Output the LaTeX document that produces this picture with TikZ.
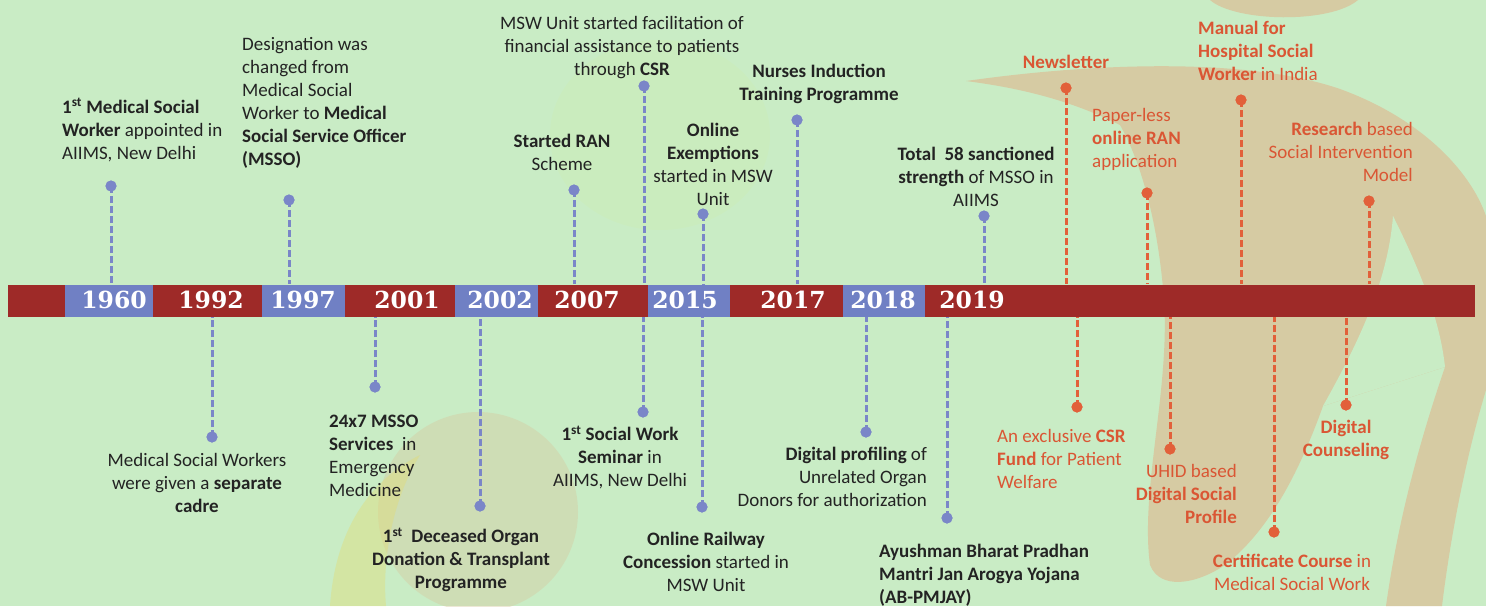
\documentclass[tikz,border=0pt]{standalone}
\usepackage{fontspec}
\setmainfont{Carlito}
\newfontfamily\yearfont{DejaVu Serif}
\definecolor{bggreen}{RGB}{201,236,197}
\definecolor{tanc}{RGB}{214,203,163}
\definecolor{barred}{RGB}{158,42,40}
\definecolor{segblue}{RGB}{112,128,196}
\definecolor{dotblue}{RGB}{122,134,200}
\definecolor{dotorange}{RGB}{226,96,58}
\definecolor{textdark}{RGB}{35,35,35}
\definecolor{textorange}{RGB}{218,86,52}
\tikzset{
  bdot/.style={circle, fill=dotblue, inner sep=0pt, minimum size=11pt},
  odot/.style={circle, fill=dotorange, inner sep=0pt, minimum size=11pt},
  bdash/.style={draw=dotblue, line width=3pt, dash pattern=on 7pt off 3pt},
  odash/.style={draw=dotorange, line width=3pt, dash pattern=on 7pt off 3pt},
  txt/.style={font=\fontsize{19}{23}\selectfont, text=textdark, inner sep=0pt},
  otxt/.style={txt, text=textorange},
  seg/.style={rectangle, inner sep=0pt, minimum height=32pt},
  yr/.style={font=\yearfont\bfseries\fontsize{23.5}{23.5}\selectfont, text=white, inner sep=0pt}
}
\begin{document}
\begin{tikzpicture}[x=1pt,y=-1pt]
\useasboundingbox (0,0) rectangle (1486,606);
\fill[bggreen] (0,0) rectangle (1486,606);
% decorative background shapes
\fill[yellow, opacity=0.035] (660,135) ellipse (110 and 95);
\fill[tanc, opacity=0.45] (478,512) circle (100);
\fill[tanc!70!yellow, opacity=0.4] (330,606) .. controls (335,530) and (370,480) .. (420,455) .. controls (392,500) and (382,560) .. (386,606) -- cycle;
\fill[tanc] (1210,0) .. controls (1235,22) and (1330,24) .. (1358,0) -- cycle;
\fill[tanc] (966,81) .. controls (1100,62) and (1250,58) .. (1340,89)
  .. controls (1420,118) and (1470,170) .. (1486,216) -- (1486,390)
  .. controls (1465,460) and (1450,540) .. (1442,606) -- (1386,606)
  .. controls (1398,520) and (1420,440) .. (1445,367) -- (1323,406)
  .. controls (1300,470) and (1270,530) .. (1225,565)
  .. controls (1195,585) and (1160,590) .. (1150,565)
  .. controls (1140,490) and (1170,390) .. (1164,300)
  .. controls (1158,220) and (1140,160) .. (1120,125)
  .. controls (1070,100) and (1020,88) .. (966,81) -- cycle;
\fill[bggreen] (1393,216) .. controls (1420,270) and (1440,320) .. (1445,367) -- (1323,406) .. controls (1360,340) and (1388,280) .. (1393,216) -- cycle;

% timeline bar
\node[seg, fill=barred, minimum width=1467pt] (bar) at (741.5,300.5) {};

% dots (top)
\node[bdot] (d1960) at (111,186) {};
\node[bdot] (d1997) at (289,200) {};
\node[bdot] (dran) at (574,190) {};
\node[bdot] (dcsr) at (644,86) {};
\node[bdot] (dexempt) at (703,214) {};
\node[bdot] (dnurses) at (797,120) {};
\node[bdot] (dtotal) at (984,216) {};
\node[odot] (dnews) at (1066,88) {};
\node[odot] (dpaper) at (1147,193) {};
\node[odot] (dmanual) at (1241,100) {};
\node[odot] (dresearch) at (1369,201) {};
% dots (bottom)
\node[bdot] (d1992) at (212,437) {};
\node[bdot] (d2001) at (375,387) {};
\node[bdot] (d2002) at (480,506) {};
\node[bdot] (dseminar) at (643,412) {};
\node[bdot] (drailway) at (702,507) {};
\node[bdot] (ddigital) at (866,432) {};
\node[bdot] (dayush) at (947,518) {};
\node[odot] (dfund) at (1077,407) {};
\node[odot] (duhid) at (1170,449) {};
\node[odot] (dcert) at (1274,532) {};
\node[odot] (dcounsel) at (1346,405) {};

% connectors
\foreach \d in {d1960,d1997,dran,dcsr,dexempt,dnurses,dtotal}
  \draw[bdash] (\d.center) -- (\d |- bar.north);
\foreach \d in {dnews,dpaper,dmanual,dresearch}
  \draw[odash] (\d.center) -- (\d |- bar.north);
\foreach \d in {d1992,d2001,d2002,dseminar,drailway,ddigital,dayush}
  \draw[bdash] (\d.center) -- (\d |- bar.south);
\foreach \d in {dfund,duhid,dcert,dcounsel}
  \draw[odash] (\d.center) -- (\d |- bar.south);

% redraw dots on top of lines
\foreach \d/\c in {d1960/dotblue,d1997/dotblue,dran/dotblue,dcsr/dotblue,dexempt/dotblue,dnurses/dotblue,dtotal/dotblue,d1992/dotblue,d2001/dotblue,d2002/dotblue,dseminar/dotblue,drailway/dotblue,ddigital/dotblue,dayush/dotblue,dnews/dotorange,dpaper/dotorange,dmanual/dotorange,dresearch/dotorange,dfund/dotorange,duhid/dotorange,dcert/dotorange,dcounsel/dotorange}
  \fill[\c] (\d.center) circle (5.5);

% bar redrawn over the connector ends
\node[seg, fill=barred, minimum width=1467pt] (bar2) at (bar.center) {};
\node[seg, fill=segblue, minimum width=88pt] (s1960) at (109,300.5) {};
\node[seg, fill=segblue, minimum width=83pt] (s1997) at (303.5,300.5) {};
\node[seg, fill=segblue, minimum width=83pt] (s2002) at (496.5,300.5) {};
\node[seg, fill=segblue, minimum width=82pt] (s2015) at (689,300.5) {};
\node[seg, fill=segblue, minimum width=82pt] (s2018) at (884,300.5) {};

% years
\node[yr] (y1960) at (114,300) {1960};
\node[yr] (y1992) at (211,300) {1992};
\node[yr] (y1997) at (303,300) {1997};
\node[yr] (y2001) at (407,300) {2001};
\node[yr] (y2002) at (500,300) {2002};
\node[yr] (y2007) at (587,300) {2007};
\node[yr] (y2015) at (685,300) {2015};
\node[yr] (y2017) at (793,300) {2017};
\node[yr] (y2018) at (883,300) {2018};
\node[yr] (y2019) at (972,300) {2019};

% texts top
\node[txt, anchor=west, align=left] (t1960) at (62,130) {\textbf{1\textsuperscript{st} Medical Social}\\\textbf{Worker} appointed in\\AIIMS, New Delhi};
\node[txt, anchor=west, align=left] (t1997) at (242,102.5) {Designation was\\changed from\\Medical Social\\Worker to \textbf{Medical}\\\textbf{Social Service Officer}\\\textbf{(MSSO)}};
\node[txt, align=center] (tran) at (562,152.5) {\textbf{Started RAN}\\Scheme};
\node[txt, align=center] (tcsr) at (622,47.5) {MSW Unit started facilitation of\\financial assistance to patients\\through \textbf{CSR}};
\node[txt, align=center] (texempt) at (713,164.5) {\textbf{Online}\\\textbf{Exemptions}\\started in MSW\\Unit};
\node[txt, align=center] (tnurses) at (819,84) {\textbf{Nurses Induction}\\\textbf{Training Programme}};
\node[txt, align=center] (ttotal) at (976,177) {\textbf{Total\ \ 58 sanctioned}\\\textbf{strength} of MSSO in\\AIIMS};
\node[otxt, align=center] (tnews) at (1066,62) {\textbf{Newsletter}};
\node[otxt, anchor=west, align=left] (tpaper) at (1092,139.5) {Paper-less\\\textbf{online RAN}\\application};
\node[otxt, anchor=west, align=left] (tmanual) at (1198,50.5) {\textbf{Manual for}\\\textbf{Hospital Social}\\\textbf{Worker} in India};
\node[otxt, anchor=east, align=right] (tresearch) at (1413,151.5) {\textbf{Research} based\\Social Intervention\\Model};

% texts bottom
\node[txt, align=center] (t1992) at (197,482.5) {Medical Social Workers\\were given a \textbf{separate}\\\textbf{cadre}};
\node[txt, anchor=west, align=left] (t2001) at (329,455.5) {\textbf{24x7 MSSO}\\\textbf{Services}\ \ in\\Emergency\\Medicine};
\node[txt, align=center] (t2002) at (461,560) {\textbf{1\textsuperscript{st}\ \ Deceased Organ}\\\textbf{Donation \& Transplant}\\\textbf{Programme}};
\node[txt, align=center] (tseminar) at (620,457.5) {\textbf{1\textsuperscript{st} Social Work}\\\textbf{Seminar} in\\AIIMS, New Delhi};
\node[txt, align=center] (trailway) at (706,562) {\textbf{Online Railway}\\\textbf{Concession} started in\\MSW Unit};
\node[txt, anchor=east, align=right] (tdigital) at (927,477) {\textbf{Digital profiling} of\\Unrelated Organ\\Donors for authorization};
\node[txt, anchor=west, align=left] (tayush) at (879,575) {\textbf{Ayushman Bharat Pradhan}\\\textbf{Mantri Jan Arogya Yojana}\\\textbf{(AB-PMJAY)}};
\node[otxt, anchor=west, align=left] (tfund) at (997,459) {An exclusive \textbf{CSR}\\\textbf{Fund} for Patient\\Welfare};
\node[otxt, anchor=east, align=right] (tuhid) at (1237,494) {UHID based\\\textbf{Digital Social}\\\textbf{Profile}};
\node[otxt, align=center] (tcert) at (1292,572.5) {\textbf{Certificate Course} in\\Medical Social Work};
\node[otxt, align=center] (tcounsel) at (1346,439.5) {\textbf{Digital}\\\textbf{Counseling}};
\end{tikzpicture}
\end{document}
